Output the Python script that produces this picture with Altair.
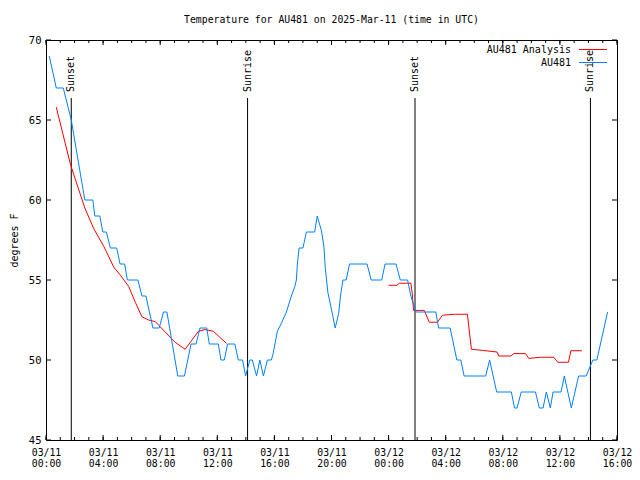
import altair as alt
import pandas as pd

FONT = "DejaVu Sans Mono"
TITLE = "Temperature for AU481 on 2025-Mar-11 (time in UTC)"

# hours since 03/11 00:00 UTC, temperature in F
blue_h = [0.23, 0.72, 1.21, 1.77, 2.72, 3.28, 3.42, 3.77, 3.98, 4.23, 4.51, 4.95, 5.19, 5.51,
          5.70, 6.44, 6.72, 7.00, 7.49, 7.93, 8.23, 8.47, 9.23, 9.70, 10.16, 10.51, 10.79,
          11.26, 11.44, 12.07, 12.26, 12.49, 12.72, 13.23, 13.47, 13.77, 13.98, 14.28, 14.45,
          14.75, 14.98, 15.23, 15.51, 15.79, 15.91, 16.21, 16.49, 16.84, 17.19, 17.43, 17.54,
          17.61, 17.73, 18.00, 18.24, 18.82, 19.00, 19.29, 19.47, 19.56, 19.75, 19.99, 20.26,
          20.50, 20.63, 20.80, 21.03, 21.26, 22.49, 22.78, 23.52, 23.75, 24.52, 24.82, 25.33,
          25.56, 25.92, 27.31, 27.50, 28.31, 28.78, 29.06, 29.29, 30.80, 31.08, 31.57, 32.60,
          32.82, 33.00, 33.29, 34.29, 34.56, 34.82, 35.05, 35.33, 35.52, 36.08, 36.31, 36.80,
          37.31, 37.84, 38.31, 38.59, 39.34]
blue_t = [69, 67, 67, 65, 60, 60, 59, 59, 58, 58, 57, 57, 56, 56,
          55, 55, 54, 54, 52, 52, 53, 53, 49, 49, 51, 51, 52,
          52, 51, 51, 50, 50, 51, 51, 50, 50, 49, 50, 50,
          49, 50, 49, 50, 50, 50.4, 51.8, 52.3, 53, 54, 54.6, 55,
          56, 57, 57, 58, 58, 59, 58.1, 57.1, 55.8, 54.2, 53.2, 52,
          52.9, 54, 55, 55, 56, 56, 55, 55, 56, 56, 55, 55,
          54, 53, 53, 52, 52, 50, 50, 49, 49, 50, 48, 48,
          47, 47, 48, 48, 47, 47, 48, 47, 48, 48, 49, 47,
          49, 49, 50, 50, 53]

red1_h = [0.72, 1.72, 2.07, 2.72, 3.35, 4.05, 4.75, 5.21, 5.79, 6.26, 6.72, 7.19, 7.65,
          8.30, 9.05, 9.75, 10.68, 11.14, 11.72, 12.26, 12.65]
red1_t = [65.8, 62.2, 61.25, 59.5, 58.2, 57.1, 55.8, 55.3, 54.6, 53.6, 52.7, 52.5, 52.4,
          51.8, 51.1, 50.67, 51.8, 51.9, 51.8, 51.35, 51.04]
red2_h = [24.00, 24.59, 24.75, 25.56, 25.65, 25.75, 26.50, 26.85, 27.42, 27.77, 28.70,
          29.52, 29.80, 30.57, 31.60, 31.72, 32.55, 32.78, 33.59, 33.82, 34.63, 35.57,
          35.85, 36.60, 36.77, 37.54]
red2_t = [54.67, 54.67, 54.8, 54.8, 54.2, 53.1, 53.1, 52.36, 52.36, 52.8, 52.86,
          52.86, 50.67, 50.6, 50.5, 50.25, 50.25, 50.4, 50.4, 50.1, 50.17, 50.17,
          49.86, 49.86, 50.58, 50.58]

event_h = [1.77, 14.12, 25.85, 38.14]
event_lbl = ["Sunset", "Sunrise", "Sunset", "Sunrise"]

major_x = [0, 4, 8, 12, 16, 20, 24, 28, 32, 36, 40]
minor_x = list(range(0, 41))
y_ticks = [45, 50, 55, 60, 65, 70]

legend_names = ["AU481 Analysis", "AU481"]
legend_colors = ["#ff0000", "#0080ff"]

W, H = 571, 400

df_blue = pd.DataFrame({"h": blue_h, "t": blue_t})
df_red = pd.concat([
    pd.DataFrame({"h": red1_h, "t": red1_t, "seg": "a"}),
    pd.DataFrame({"h": red2_h, "t": red2_t, "seg": "b"}),
])
df_ev = pd.DataFrame({"h": event_h, "lbl": event_lbl})

xs = alt.Scale(domain=[0, 40], nice=False, zero=False)
ys = alt.Scale(domain=[45, 70], nice=False, zero=False)

x_axis = alt.Axis(
    values=major_x,
    labelExpr="[datum.value < 24 ? '03/11' : '03/12', (datum.value % 24 < 10 ? '0' : '') + (datum.value % 24) + ':00']",
    domain=False, ticks=False, grid=False, title=None,
    labelFont=FONT, labelFontSize=9.8, labelColor="black", labelPadding=7,
    labelLineHeight=11, labelAngle=0, labelOverlap=False, labelFlush=False,
)
y_axis = alt.Axis(
    values=y_ticks, domain=False, ticks=False, grid=False,
    labelFont=FONT, labelFontSize=10.5, labelColor="black", labelPadding=5,
    title="degrees F", titleFont=FONT, titleFontSize=10, titleFontWeight="normal",
    titleColor="black", titleX=-32, titleY=H / 2, titleAngle=270,
    titleAlign="center", titleBaseline="middle",
)


def X(f):
    return alt.X(f"{f}:Q", scale=xs, axis=x_axis)


def Y(f):
    return alt.Y(f"{f}:Q", scale=ys, axis=y_axis)


ev_rule = alt.Chart(df_ev).mark_rule(color="black", strokeWidth=1).encode(
    x=X("h"), y=alt.value(58), y2=alt.value(H))
ev_text = alt.Chart(df_ev).mark_text(
    angle=270, align="left", baseline="middle", font=FONT, fontSize=10, color="black"
).encode(x=X("h"), y=alt.value(52), text="lbl:N")

red = alt.Chart(df_red).mark_line(color=legend_colors[0], strokeWidth=1).encode(
    x=X("h"), y=Y("t"), detail="seg:N", order="h:Q")
blue = alt.Chart(df_blue).mark_line(color=legend_colors[1], strokeWidth=1).encode(
    x=X("h"), y=Y("t"), order="h:Q")

df_major = pd.DataFrame({"h": major_x})
df_minor = pd.DataFrame({"h": minor_x})
df_yt = pd.DataFrame({"v": y_ticks})
tk = dict(color="black", strokeWidth=1)
ticks = [
    alt.Chart(df_major).mark_rule(**tk).encode(x=X("h"), y=alt.value(H), y2=alt.value(H - 5)),
    alt.Chart(df_major).mark_rule(**tk).encode(x=X("h"), y=alt.value(0), y2=alt.value(5)),
    alt.Chart(df_minor).mark_rule(**tk).encode(x=X("h"), y=alt.value(H), y2=alt.value(H - 3)),
    alt.Chart(df_minor).mark_rule(**tk).encode(x=X("h"), y=alt.value(0), y2=alt.value(3)),
    alt.Chart(df_yt).mark_rule(**tk).encode(y=Y("v"), x=alt.value(0), x2=alt.value(5)),
    alt.Chart(df_yt).mark_rule(**tk).encode(y=Y("v"), x=alt.value(W - 5), x2=alt.value(W)),
]

legend = []
for i, (nm, col) in enumerate(zip(legend_names, legend_colors)):
    row_y = 10 + 13 * i
    d = pd.DataFrame({"name": [nm]})
    legend.append(alt.Chart(d).mark_text(
        align="right", baseline="middle", font=FONT, fontSize=10, color="black"
    ).encode(x=alt.value(W - 46), y=alt.value(row_y), text="name:N"))
    legend.append(alt.Chart(d).mark_rule(color=col, strokeWidth=1).encode(
        x=alt.value(W - 38), x2=alt.value(W - 10), y=alt.value(row_y - 0.5)))

title = alt.Chart(pd.DataFrame({"title": [TITLE]})).mark_text(
    align="center", baseline="middle", font=FONT, fontSize=9.8, color="black"
).encode(x=alt.value(W / 2), y=alt.value(-20), text="title:N")

chart = alt.layer(ev_rule, ev_text, red, blue, *ticks, *legend, title).properties(
    width=W, height=H,
    autosize=alt.AutoSizeParams(type="none"),
    padding={"left": 38, "top": 32, "right": 15, "bottom": 32},
    background="white",
).configure_view(stroke="black", strokeWidth=1)

chart.save("out.html", embed_options={"renderer": "svg", "actions": False})
